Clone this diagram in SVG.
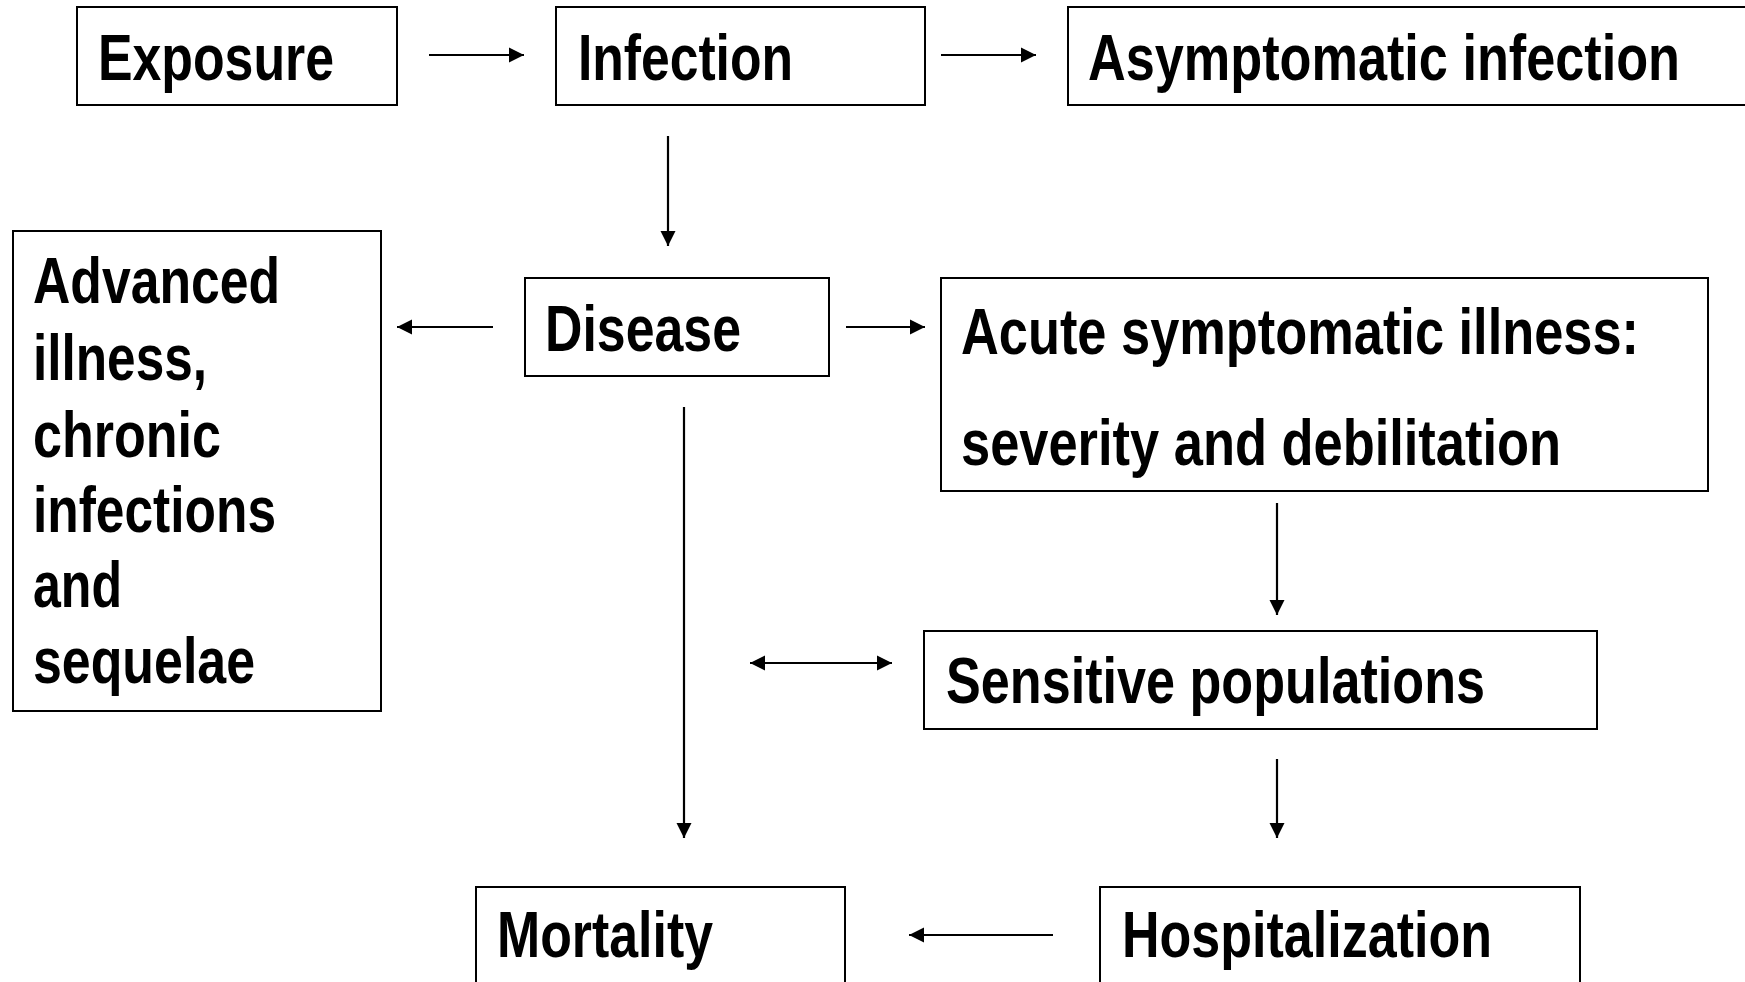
<svg xmlns="http://www.w3.org/2000/svg" width="1745" height="982" viewBox="0 0 1745 982">
<style>
.box{fill:#fff;stroke:#000;stroke-width:2}
.t{font-family:"Liberation Sans Narrow","Liberation Sans",Arial,sans-serif;font-weight:bold;font-size:64px;fill:#000}
.c{stroke:#000;stroke-width:2.2;fill:none}
</style>
<defs>
<marker id="ah" markerUnits="userSpaceOnUse" markerWidth="16" markerHeight="16" refX="15" refY="8" orient="auto-start-reverse">
<path d="M0,0.5 L15,8 L0,15.5 z" fill="#000"/>
</marker>
</defs>
<rect width="1745" height="982" fill="#fff"/>
<g id="exposure"><rect class="box" x="77" y="7" width="320" height="98"/><text class="t" x="98" y="80" textLength="236" lengthAdjust="spacingAndGlyphs">Exposure</text></g>
<g id="infection"><rect class="box" x="556" y="7" width="369" height="98"/><text class="t" x="578" y="80" textLength="215" lengthAdjust="spacingAndGlyphs">Infection</text></g>
<g id="asymptomatic"><rect class="box" x="1068" y="7" width="700" height="98"/><text class="t" x="1088" y="80" textLength="592" lengthAdjust="spacingAndGlyphs">Asymptomatic infection</text></g>
<g id="advanced"><rect class="box" x="13" y="231" width="368" height="480"/>
<text class="t" x="33" y="303" textLength="247" lengthAdjust="spacingAndGlyphs">Advanced</text>
<text class="t" x="33" y="380" textLength="174" lengthAdjust="spacingAndGlyphs">illness,</text>
<text class="t" x="33" y="457" textLength="188" lengthAdjust="spacingAndGlyphs">chronic</text>
<text class="t" x="33" y="532" textLength="243" lengthAdjust="spacingAndGlyphs">infections</text>
<text class="t" x="33" y="607" textLength="89" lengthAdjust="spacingAndGlyphs">and</text>
<text class="t" x="33" y="683" textLength="222" lengthAdjust="spacingAndGlyphs">sequelae</text></g>
<g id="disease"><rect class="box" x="525" y="278" width="304" height="98"/><text class="t" x="545" y="351" textLength="196" lengthAdjust="spacingAndGlyphs">Disease</text></g>
<g id="acute"><rect class="box" x="941" y="278" width="767" height="213"/>
<text class="t" x="961" y="354" textLength="678" lengthAdjust="spacingAndGlyphs">Acute symptomatic illness:</text>
<text class="t" x="961" y="465" textLength="600" lengthAdjust="spacingAndGlyphs">severity and debilitation</text></g>
<g id="sensitive"><rect class="box" x="924" y="631" width="673" height="98"/><text class="t" x="946" y="703" textLength="539" lengthAdjust="spacingAndGlyphs">Sensitive populations</text></g>
<g id="mortality"><rect class="box" x="476" y="887" width="369" height="120"/><text class="t" x="497" y="957" textLength="216" lengthAdjust="spacingAndGlyphs">Mortality</text></g>
<g id="hospitalization"><rect class="box" x="1100" y="887" width="480" height="120"/><text class="t" x="1122" y="957" textLength="370" lengthAdjust="spacingAndGlyphs">Hospitalization</text></g>
<g id="connectors">
<line class="c" x1="429" y1="55" x2="524" y2="55" marker-end="url(#ah)"/>
<line class="c" x1="941" y1="55" x2="1036" y2="55" marker-end="url(#ah)"/>
<line class="c" x1="668" y1="136" x2="668" y2="246" marker-end="url(#ah)"/>
<line class="c" x1="493" y1="327" x2="397" y2="327" marker-end="url(#ah)"/>
<line class="c" x1="846" y1="327" x2="925" y2="327" marker-end="url(#ah)"/>
<line class="c" x1="684" y1="407" x2="684" y2="838" marker-end="url(#ah)"/>
<line class="c" x1="1277" y1="503" x2="1277" y2="615" marker-end="url(#ah)"/>
<line class="c" x1="750" y1="663" x2="892" y2="663" marker-start="url(#ah)" marker-end="url(#ah)"/>
<line class="c" x1="1277" y1="759" x2="1277" y2="838" marker-end="url(#ah)"/>
<line class="c" x1="1053" y1="935" x2="909" y2="935" marker-end="url(#ah)"/>
</g>
</svg>
